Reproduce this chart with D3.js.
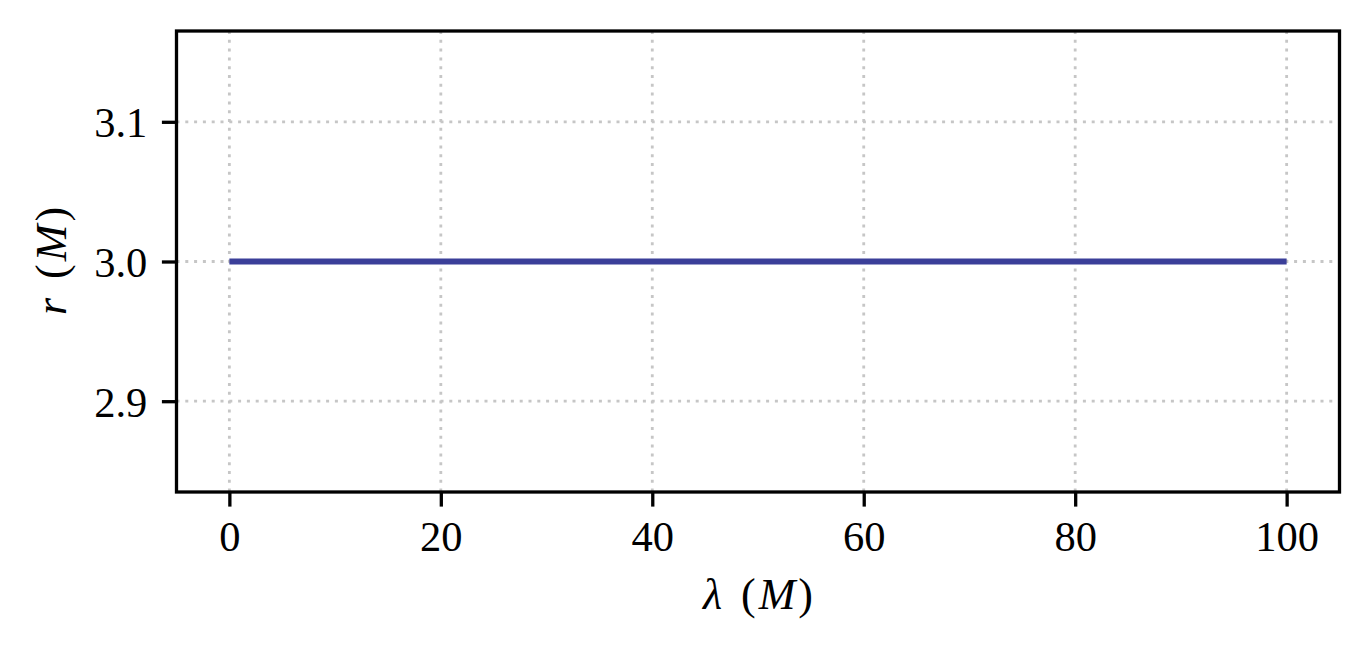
<!DOCTYPE html>
<html>
<head>
<meta charset="utf-8">
<script src="https://cdn.jsdelivr.net/npm/d3@7"></script>
<style>
  html, body { margin: 0; padding: 0; background: #ffffff; }
  svg { display: block; }
  text { font-family: "Liberation Serif", "DejaVu Serif", serif; fill: #000; }
</style>
</head>
<body>
<svg id="chart" width="1368" height="652"></svg>
<script>
// ---- data ----
const lambdaValues = [0, 100];          // affine parameter λ (M)
const rValues = [3.0, 3.0];             // radius r (M) – circular photon orbit
const xTicks = [0, 20, 40, 60, 80, 100];
const yTicks = [2.9, 3.0, 3.1];
const xDomain = [-5, 105];
const yDomain = [2.835, 3.165];

// ---- layout ----
const W = 1368, H = 652;
const margin = { left: 176.5, right: W - 1339.5, top: 31, bottom: H - 492 };
const svg = d3.select("#chart");
const g = svg.append("g");

const x = d3.scaleLinear().domain(xDomain).range([margin.left, W - margin.right]);
const y = d3.scaleLinear().domain(yDomain).range([H - margin.bottom, margin.top]);

const fontSize = 42.5;
const labelSize = 44;
const tickLen = 14.6;
const gridColor = "#c6c6c6";
const lineColor = "#3b3f99";

// grid
g.append("g").selectAll("line").data(xTicks).join("line")
  .attr("x1", d => x(d)).attr("x2", d => x(d))
  .attr("y1", y.range()[1]).attr("y2", y.range()[0])
  .attr("stroke", gridColor).attr("stroke-width", 2.8)
  .attr("stroke-dasharray", "3,5.8");
g.append("g").selectAll("line").data(yTicks).join("line")
  .attr("y1", d => y(d)).attr("y2", d => y(d))
  .attr("x1", x.range()[0]).attr("x2", x.range()[1])
  .attr("stroke", gridColor).attr("stroke-width", 2.8)
  .attr("stroke-dasharray", "3,5.8");

// data line
const line = d3.line().x((d, i) => x(lambdaValues[i])).y((d) => y(d));
g.append("path").datum(rValues)
  .attr("d", line)
  .attr("fill", "none")
  .attr("stroke", lineColor)
  .attr("stroke-width", 6);

// axes
const xAxis = d3.axisBottom(x).tickValues(xTicks).tickFormat(d3.format("d"))
  .tickSize(tickLen).tickPadding(10);
const yAxis = d3.axisLeft(y).tickValues(yTicks).tickFormat(d3.format(".1f"))
  .tickSize(tickLen).tickPadding(14.6);

const gx = g.append("g").attr("transform", `translate(0,${y.range()[0]})`).call(xAxis);
const gy = g.append("g").attr("transform", `translate(${x.range()[0]},0)`).call(yAxis);
[gx, gy].forEach(a => {
  a.select(".domain").remove();
  a.selectAll(".tick line").attr("stroke", "#000").attr("stroke-width", 3.3);
  a.selectAll(".tick text").attr("font-size", fontSize)
    .attr("font-family", "'Liberation Serif', 'DejaVu Serif', serif").attr("fill", "#000");
});
gx.selectAll(".tick text").attr("dy", null).attr("y", 59).attr("dominant-baseline", "auto");
gy.selectAll(".tick text").attr("dy", null).attr("y", 15).attr("dominant-baseline", "auto");

// frame
g.append("rect")
  .attr("x", x.range()[0]).attr("y", y.range()[1])
  .attr("width", x.range()[1] - x.range()[0])
  .attr("height", y.range()[0] - y.range()[1])
  .attr("fill", "none").attr("stroke", "#000").attr("stroke-width", 3.3);

// axis labels
const xl = svg.append("text")
  .attr("x", 758).attr("y", 609)
  .attr("text-anchor", "middle").attr("font-size", labelSize);
xl.append("tspan").attr("font-style", "italic").text("λ");
xl.append("tspan").attr("dx", 19).text("(");
xl.append("tspan").attr("dx", 3).attr("font-style", "italic").text("M");
xl.append("tspan").attr("dx", 3).text(")");

const yl = svg.append("text")
  .attr("transform", "translate(66,261) rotate(-90)")
  .attr("text-anchor", "middle").attr("font-size", labelSize);
yl.append("tspan").attr("font-style", "italic").text("r");
yl.append("tspan").attr("dx", 19).text("(");
yl.append("tspan").attr("dx", 3).attr("font-style", "italic").text("M");
yl.append("tspan").attr("dx", 3).text(")");
</script>
</body>
</html>
